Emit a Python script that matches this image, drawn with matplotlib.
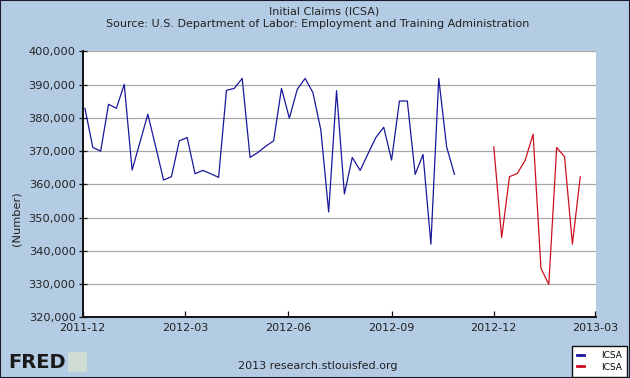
import matplotlib
matplotlib.use("Agg")
import matplotlib.pyplot as plt
import matplotlib.ticker as mticker
from matplotlib.patches import Rectangle
from matplotlib.lines import Line2D
import pandas as pd

# ---- data (weekly initial claims) ----
blue_start = "2011-12-03"
blue_values = [382900, 371100, 370000, 384100, 382900, 390100, 364300, 372700,
               381100, 371300, 361300, 362300, 373100, 374100, 363200, 364200,
               363200, 362100, 388300, 388900, 391900, 368100, 369600, 371500,
               373100, 388900, 379900, 388600, 391900, 387600, 376400, 351700,
               388200, 357100, 368100, 364200, 369200, 374100, 377200, 367300,
               385100, 385100, 363000, 369000, 342000, 391900, 371300, 363000]
red_start = "2012-12-01"
red_values = [371300, 344000, 362300, 363300, 367300, 375100, 334700, 329900,
              371100, 368300, 342000, 362300]
x_tick_dates = ["2011-12-01", "2012-03-01", "2012-06-01", "2012-09-01",
                "2012-12-01", "2013-03-01"]
x_tick_labels = ["2011-12", "2012-03", "2012-06", "2012-09", "2012-12", "2013-03"]
y_ticks = [320000, 330000, 340000, 350000, 360000, 370000, 380000, 390000, 400000]
series_names = ["ICSA", "ICSA"]
title_lines = ["Initial Claims (ICSA)",
               "Source: U.S. Department of Labor: Employment and Training Administration"]
y_label = "(Number)"
footer = "2013 research.stlouisfed.org"

blue_dates = pd.date_range(blue_start, periods=len(blue_values), freq="W-SAT")
red_dates = pd.date_range(red_start, periods=len(red_values), freq="W-SAT")

BG = "#B4CBE4"
BLUE = "#18189A"
RED = "#CC1020"
TXT = "#222222"

plt.rcParams["font.family"] = ["DejaVu Sans"]

fig = plt.figure(figsize=(6.3, 3.78), dpi=100, facecolor=BG)
ax = fig.add_axes([82.7 / 630, 1 - 317.2 / 378, (596 - 82.7) / 630, (317.2 - 51.5) / 378])
ax.set_facecolor("white")

ax.plot(blue_dates, blue_values, color=BLUE, lw=0.9, label=series_names[0])
ax.plot(red_dates, red_values, color=RED, lw=0.9, label=series_names[1])

ax.set_ylim(320000, 400000)
ax.set_xlim(pd.Timestamp("2011-12-01"), pd.Timestamp("2013-03-02"))
ax.set_yticks(y_ticks)
ax.yaxis.set_major_formatter(mticker.FuncFormatter(lambda v, p: f"{int(v):,}"))
ax.set_xticks(pd.to_datetime(x_tick_dates))
ax.set_xticklabels(x_tick_labels)

ax.grid(axis="y", color="#A8A8A8", lw=0.9)
ax.set_axisbelow(True)
for s in ["top", "right"]:
    ax.spines[s].set_visible(False)
for s in ["left", "bottom"]:
    ax.spines[s].set_color("#111111")
    ax.spines[s].set_linewidth(1.4)
ax.tick_params(axis="y", direction="inout", length=6, width=0.9, color="#111111",
               labelsize=8.2, pad=2, labelcolor=TXT)
ax.tick_params(axis="x", direction="in", length=4, width=0.9, color="#111111",
               labelsize=8, pad=4, labelcolor=TXT)

fig.text(0.515, 1 - 11 / 378, title_lines[0], ha="center", va="center",
         fontsize=8, color=TXT)
fig.text(317.5 / 630, 1 - 24 / 378, title_lines[1], ha="center", va="center",
         fontsize=8, color=TXT)
fig.text(17 / 630, 1 - 219 / 378, y_label, rotation=90, ha="center", va="center",
         fontsize=8.2, color=TXT)
fig.text(318 / 630, 1 - 366 / 378, footer, ha="center", va="center",
         fontsize=8, color=TXT)

# FRED logo
fig.text(8 / 630, 1 - 362 / 378, "FRED", ha="left", va="center", fontsize=14,
         fontweight="heavy", color="#1a1a1a")
fig.patches.append(Rectangle((68 / 630, 1 - 372 / 378), 19 / 630, 20 / 378,
                             transform=fig.transFigure, facecolor="#D4E0D0",
                             edgecolor="none", alpha=0.85))

# legend box
leg = fig.legend(handles=[Line2D([], [], color=BLUE, lw=2),
                          Line2D([], [], color=RED, lw=2)],
                 labels=series_names, loc="lower right",
                 bbox_to_anchor=(626.5 / 630, 1 - 376.5 / 378), fontsize=6.5,
                 frameon=True, fancybox=False, edgecolor="#111111",
                 facecolor="white", framealpha=1, handlelength=0.8,
                 handletextpad=1.8, borderpad=0.55, labelspacing=0.25,
                 borderaxespad=0)
leg.get_frame().set_linewidth(1.0)

# outer border
fig.patches.append(Rectangle((0, 0), 1, 1, transform=fig.transFigure,
                             facecolor="none", edgecolor="#1a1a2a", lw=1.5))

fig.savefig("out.png", dpi=100, facecolor=BG)
